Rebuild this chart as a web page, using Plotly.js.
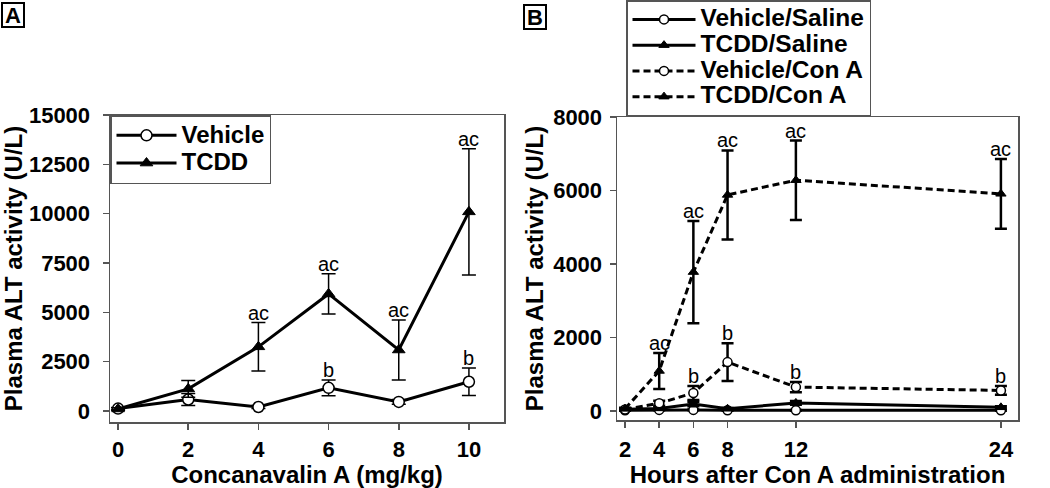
<!DOCTYPE html>
<html><head><meta charset="utf-8">
<script src="https://cdn.plot.ly/plotly-3.0.1.min.js"></script>
<style>html,body{margin:0;padding:0;background:#fff}#chart{width:1050px;height:488px}</style>
</head><body><div id="chart"></div>
<script>
// Panel A: dose response
const doseA = [0, 2, 4, 6, 8, 10];
const vehA = [120, 580, 200, 1170, 460, 1480];
const vehAerr = [60, 300, 80, 400, 120, 700];
const tcddA = [100, 1120, 3250, 5930, 3090, 10090];
const tcddAerr = [60, 420, 1230, 1020, 1520, 3200];
const sigVehA = ['', '', '', 'b', '', 'b'];
const sigTcddA = ['', '', 'ac', 'ac', 'ac', 'ac'];
const namesA = ['Vehicle', 'TCDD'];
const yTicksA = [0, 2500, 5000, 7500, 10000, 12500, 15000];
const yTickTextA = ['0', '2500', '5000', '7500', '10000', '12500', '15000'];

// Panel B: time course
const hoursB = [2, 4, 6, 8, 12, 24];
const vehSal = [20, 30, 30, 20, 20, 20];
const vehSalErr = [10, 10, 10, 10, 10, 10];
const tcddSal = [50, 70, 190, 60, 220, 100];
const tcddSalErr = [20, 30, 60, 20, 50, 30];
const vehCon = [40, 210, 490, 1330, 650, 560];
const vehConErr = [20, 70, 190, 515, 140, 120];
const tcddCon = [60, 1090, 3780, 5880, 6280, 5910];
const tcddConErr = [30, 490, 1390, 1210, 1080, 950];
const sigVehCon = ['', '', 'b', 'b', 'b', 'b'];
const sigTcddCon = ['', 'ac', 'ac', 'ac', 'ac', 'ac'];
const namesB = ['Vehicle/Saline', 'TCDD/Saline', 'Vehicle/Con A', 'TCDD/Con A'];
const yTicksB = [0, 2000, 4000, 6000, 8000];

const FONT = 'Arial, "Liberation Sans", sans-serif';
const circ = {symbol: 'circle', color: '#fff', line: {color: '#000', width: 1.5}};
const tri = {symbol: 'triangle-up', color: '#000', line: {color: '#000', width: 1}};
const big = (s, px) => '<span style="font-size:' + px + 'px">' + s + '</span>';

function tr(x, y, err, name, marker, size, dash, xa, ya, legend, ew, cap) {
  return {
    x: x, y: y, name: name, type: 'scatter', mode: 'lines+markers',
    xaxis: xa, yaxis: ya, legend: legend,
    line: {color: '#000', width: 3, dash: dash},
    marker: Object.assign({size: size}, marker),
    error_y: {type: 'data', array: err, visible: true, color: '#000', thickness: ew, width: cap}
  };
}

const DASH = '7px,4px';
const data = [
  tr(doseA, vehA, vehAerr, big(namesA[0], 24), circ, 11, 'solid', 'x', 'y', 'legend', 1.5, 7),
  tr(doseA, tcddA, tcddAerr, big(namesA[1], 24), tri, 11, 'solid', 'x', 'y', 'legend', 1.5, 7),
  tr(hoursB, vehSal, vehSalErr, big(namesB[0], 24.5), circ, 9, 'solid', 'x2', 'y2', 'legend2', 2.5, 6),
  tr(hoursB, tcddSal, tcddSalErr, big(namesB[1], 24.5), tri, 9, 'solid', 'x2', 'y2', 'legend2', 2.5, 6),
  tr(hoursB, vehCon, vehConErr, big(namesB[2], 24.5), circ, 9, DASH, 'x2', 'y2', 'legend2', 2.5, 6),
  tr(hoursB, tcddCon, tcddConErr, big(namesB[3], 24.5), tri, 9, DASH, 'x2', 'y2', 'legend2', 2.5, 6)
];

const annotations = [];
function addSig(x, y, err, sig, xa, ya) {
  x.forEach((xv, i) => {
    if (sig[i]) annotations.push({
      x: xv, y: y[i] + err[i], xref: xa, yref: ya, text: sig[i], showarrow: false,
      yanchor: 'bottom', yshift: -3, font: {family: FONT, size: 20, color: '#000'}
    });
  });
}
addSig(doseA, vehA, vehAerr, sigVehA, 'x', 'y');
addSig(doseA, tcddA, tcddAerr, sigTcddA, 'x', 'y');
addSig(hoursB, vehCon, vehConErr, sigVehCon, 'x2', 'y2');
addSig(hoursB, tcddCon, tcddConErr, sigTcddCon, 'x2', 'y2');

annotations.push({text: '<b>A</b>', xref: 'paper', yref: 'paper', x: 1/1050, y: 1 - 2/488,
  xanchor: 'left', yanchor: 'top', showarrow: false, bordercolor: '#000', borderwidth: 2, borderpad: 0,
  width: 20, height: 22, font: {family: FONT, size: 22, color: '#000'}});
annotations.push({text: '<b>B</b>', xref: 'paper', yref: 'paper', x: 523/1050, y: 1 - 4/488,
  xanchor: 'left', yanchor: 'top', showarrow: false, bordercolor: '#000', borderwidth: 2, borderpad: 0,
  width: 20, height: 22, font: {family: FONT, size: 22, color: '#000'}});

const tickFont = {family: FONT, size: 22, color: '#000', weight: 'bold'};
const titleFont = {family: FONT, size: 24, color: '#000', weight: 'bold'};
const axBase = {showline: true, mirror: true, linecolor: '#555', linewidth: 1.5, ticks: 'outside',
  ticklen: 6, tickcolor: '#555', tickwidth: 1.5, showgrid: false, zeroline: false, tickfont: tickFont};

const layout = {
  width: 1050, height: 488, margin: {l: 0, r: 0, t: 0, b: 0},
  paper_bgcolor: '#fff', plot_bgcolor: '#fff', showlegend: true,
  font: {family: FONT, color: '#000'},
  xaxis: Object.assign({}, axBase, {domain: [110/1050, 504/1050], range: [-0.23, 11.0],
    tickmode: 'array', tickvals: doseA, ticklabelstandoff: 1, anchor: 'y',
    title: {text: 'Concanavalin A (mg/kg)', font: titleFont, standoff: 6}}),
  yaxis: Object.assign({}, axBase, {domain: [1 - 422/488, 1 - 115/488], range: [-560, 15000],
    tickmode: 'array', tickvals: yTicksA, ticktext: yTickTextA, ticklabelstandoff: 8, anchor: 'x',
    title: {text: 'Plasma ALT activity (U/L)', font: titleFont, standoff: 4}}),
  xaxis2: Object.assign({}, axBase, {domain: [617/1050, 1018/1050], range: [1.53, 25.0],
    tickmode: 'array', tickvals: hoursB, ticklabelstandoff: 3, anchor: 'y2',
    title: {text: 'Hours after Con A administration', font: titleFont, standoff: 3}}),
  yaxis2: Object.assign({}, axBase, {domain: [1 - 420/488, 1 - 117/488], range: [-245, 8000],
    tickmode: 'array', tickvals: yTicksB, ticklabelstandoff: 3, anchor: 'x2',
    title: {text: 'Plasma ALT activity (U/L)', font: titleFont, standoff: 2}}),
  legend: {x: 110/1050, y: 1 - 115/488, xanchor: 'left', yanchor: 'top', bgcolor: '#fff',
    bordercolor: '#555', borderwidth: 1.5, font: {family: FONT, size: 19, color: '#000', weight: 'bold'},
    itemwidth: 60, tracegroupgap: 0},
  legend2: {x: 626/1050, y: 1, xanchor: 'left', yanchor: 'top', bgcolor: '#fff',
    bordercolor: '#555', borderwidth: 1.5, font: {family: FONT, size: 17.5, color: '#000', weight: 'bold'},
    itemwidth: 63, tracegroupgap: 0},
  annotations: annotations
};

Plotly.newPlot('chart', data, layout, {displayModeBar: false, staticPlot: true});
</script></body></html>
